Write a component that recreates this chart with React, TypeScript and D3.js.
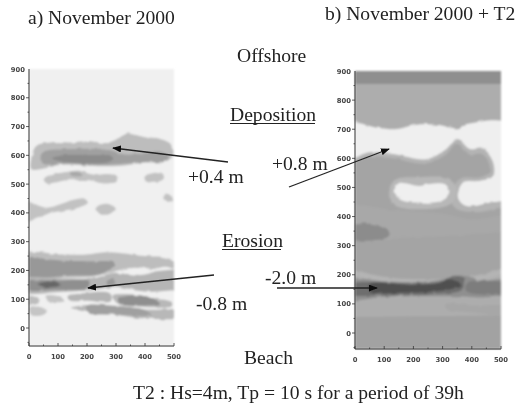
import React from "react";
import * as d3 from "d3";

type Pt = [number, number];
type Shape = { fill: string; pts: Pt[]; sharp?: boolean };

const yTicks = [900, 800, 700, 600, 500, 400, 300, 200, 100, 0];
const xTicks = [0, 100, 200, 300, 400, 500];

// Contour patches, in data units (x, y), panel a
const depOuter: Pt[] = [[8,590],[25,632],[70,645],[150,645],[200,650],[270,643],[295,652],[335,675],[400,663],[450,658],[490,638],[497,600],[470,578],[400,575],[330,565],[250,562],[120,567],[40,552],[8,552]];
const depMid: Pt[] = [[40,590],[50,612],[120,621],[200,623],[280,618],[330,603],[400,608],[450,613],[482,595],[470,580],[400,577],[330,572],[250,567],[120,572],[60,567]];
const depDark: Pt[] = [[80,590],[120,600],[200,601],[275,598],[290,587],[270,575],[200,572],[120,577]];
const bar1: Pt[] = [[50,520],[80,532],[130,542],[170,547],[220,533],[270,535],[307,527],[302,508],[250,503],[210,513],[130,513],[60,503]];
const bar1Dark: Pt[] = [[140,538],[170,541],[185,530],[150,528]];
const bar2: Pt[] = [[398,525],[430,539],[462,532],[464,515],[430,508],[403,513]];
const bar3: Pt[] = [[463,455],[485,465],[497,447],[475,438]];
const bar4: Pt[] = [[-30,445],[25,428],[60,418],[110,431],[150,445],[190,450],[203,435],[170,418],[120,408],[70,398],[30,383],[-30,362]];
const bar5: Pt[] = [[233,420],[270,432],[299,415],[285,398],[245,396]];
const ero1: Pt[] = [[-30,257],[120,255],[200,255],[260,263],[320,260],[400,250],[470,245],[495,232],[500,208],[470,213],[430,205],[390,210],[330,205],[270,190],[220,178],[120,175],[-30,175]];
const ero1Dark: Pt[] = [[-30,236],[120,234],[230,232],[285,230],[297,220],[280,205],[240,186],[150,182],[-30,182]];
const ero2: Pt[] = [[-30,168],[130,172],[220,172],[250,180],[290,192],[350,187],[395,185],[430,195],[530,195],[530,145],[430,126],[370,130],[300,143],[230,133],[120,126],[-30,126]];
const ero2Dark: Pt[] = [[-30,160],[100,165],[205,160],[205,140],[100,133],[-30,135]];
const ero2Core: Pt[] = [[30,152],[70,162],[110,150],[70,141]];
const ero2Patch: Pt[] = [[270,165],[290,170],[297,155],[270,150]];
const row3a: Pt[] = [[-30,110],[30,105],[37,90],[-30,86]];
const row3b: Pt[] = [[63,112],[110,107],[122,93],[80,90],[63,95]];
const row3c: Pt[] = [[133,110],[180,120],[280,120],[282,93],[200,95],[140,96]];
const row3d: Pt[] = [[288,112],[350,117],[440,102],[492,90],[492,76],[400,73],[308,83]];
const row3Dark: Pt[] = [[308,102],[370,114],[440,97],[452,85],[380,78],[320,83]];
const row4a: Pt[] = [[3,72],[40,72],[62,60],[50,46],[8,45]];
const row4b: Pt[] = [[148,70],[200,80],[300,77],[400,64],[530,57],[530,38],[400,33],[300,45],[200,55]];
const row4Dark: Pt[] = [[198,77],[280,77],[400,62],[422,45],[300,48],[203,53]];

// Contour patches, panel b
const bandUpper: Pt[] = [[-30,920],[530,920],[530,-90],[-30,-90]];
const bandTop: Pt[] = [[-30,920],[530,920],[530,855],[-30,855]];
const shoreBand: Pt[] = [[-30,55],[530,60],[530,-90],[-30,-90]];
const whiteZone: Pt[] = [[-30,718],[75,705],[143,700],[210,715],[280,715],[350,703],[385,718],[530,716],[530,400],[-30,400]];
const massOuter: Pt[] = [[-30,575],[28,615],[60,622],[130,615],[245,597],[313,632],[348,667],[393,632],[439,632],[473,586],[473,540],[439,523],[370,517],[353,465],[382,436],[530,448],[530,220],[-30,220]];
const massInner: Pt[] = [[-30,555],[30,600],[70,607],[130,600],[240,582],[310,612],[348,650],[390,615],[435,615],[460,580],[460,552],[430,535],[365,532],[335,500],[330,450],[350,425],[420,415],[530,425],[530,240],[-30,240]];
const holeRing: Pt[] = [[117,480],[135,525],[220,535],[320,530],[348,490],[330,445],[220,425],[135,440]];
const holeWhite: Pt[] = [[133,485],[150,514],[220,505],[255,512],[310,510],[323,480],[300,455],[220,448],[155,458]];
const rightWhite: Pt[] = [[395,510],[530,522],[530,465],[420,455],[395,480]];
const lowerBand: Pt[] = [[-30,430],[150,420],[300,410],[400,390],[530,400],[530,360],[400,340],[200,330],[-30,330]];
const sideBlob: Pt[] = [[-30,368],[60,374],[112,355],[117,335],[80,320],[-30,328]];
const troughHalo: Pt[] = [[-30,182],[100,178],[200,175],[300,184],[340,198],[390,194],[430,180],[530,182],[530,136],[430,122],[360,126],[250,126],[100,124],[-30,118]];
const troughMid: Pt[] = [[-30,165],[60,175],[200,170],[300,178],[330,193],[375,188],[365,148],[300,136],[100,130],[-30,135]];
const troughCore: Pt[] = [[50,168],[200,165],[280,170],[330,184],[365,162],[300,146],[150,138],[50,142]];
const troughRight: Pt[] = [[385,172],[440,178],[530,168],[530,143],[440,132],[385,143]];
const shorePatch: Pt[] = [[310,100],[400,95],[530,90],[530,65],[400,70],[310,85]];

const shapesA: Shape[] = [
  { fill: "#bdbdbd", pts: depOuter }, { fill: "#a0a0a0", pts: depMid }, { fill: "#8b8b8b", pts: depDark },
  { fill: "#c2c2c2", pts: bar1 }, { fill: "#a8a8a8", pts: bar1Dark }, { fill: "#c2c2c2", pts: bar2 },
  { fill: "#c2c2c2", pts: bar3 }, { fill: "#c2c2c2", pts: bar4 }, { fill: "#c2c2c2", pts: bar5 },
  { fill: "#bdbdbd", pts: ero1 }, { fill: "#989898", pts: ero1Dark }, { fill: "#b5b5b5", pts: ero2 },
  { fill: "#8f8f8f", pts: ero2Dark }, { fill: "#666666", pts: ero2Core }, { fill: "#9a9a9a", pts: ero2Patch },
  { fill: "#bdbdbd", pts: row3a }, { fill: "#c5c5c5", pts: row3b }, { fill: "#b5b5b5", pts: row3c },
  { fill: "#b8b8b8", pts: row3d }, { fill: "#8f8f8f", pts: row3Dark }, { fill: "#c5c5c5", pts: row4a },
  { fill: "#b8b8b8", pts: row4b }, { fill: "#a0a0a0", pts: row4Dark },
];
const shapesB: Shape[] = [
  { fill: "#adadad", pts: bandUpper, sharp: true }, { fill: "#8f8f8f", pts: bandTop, sharp: true }, { fill: "#a2a2a2", pts: shoreBand, sharp: true },
  { fill: "#efefef", pts: whiteZone }, { fill: "#b4b4b4", pts: massOuter }, { fill: "#a4a4a4", pts: massInner },
  { fill: "#b8b8b8", pts: holeRing }, { fill: "#efefef", pts: holeWhite }, { fill: "#efefef", pts: rightWhite },
  { fill: "#a8a8a8", pts: lowerBand }, { fill: "#8c8c8c", pts: sideBlob }, { fill: "#8f8f8f", pts: troughHalo },
  { fill: "#6e6e6e", pts: troughMid }, { fill: "#505050", pts: troughCore }, { fill: "#7d7d7d", pts: troughRight },
  { fill: "#a7a7a7", pts: shorePatch },
];

function Panel({ left, right, top, zero, bottom, bg, shapes, id }: { left: number; right: number; top: number; zero: number; bottom: number; bg: string; shapes: Shape[]; id: string }) {
  const x = d3.scaleLinear().domain([0, 500]).range([left, right]);
  const y = d3.scaleLinear().domain([0, 900]).range([zero, top]);
  const smooth = d3.line<Pt>().x((d) => x(d[0])).y((d) => y(d[1])).curve(d3.curveCatmullRomClosed.alpha(0.5));
  const sharp = d3.line<Pt>().x((d) => x(d[0])).y((d) => y(d[1])).curve(d3.curveLinearClosed);
  const minorY = d3.range(-50, 900, 50);
  const minorX = d3.range(0, 501, 50);
  return (
    <g>
      <clipPath id={id}><rect x={left} y={top} width={right - left} height={bottom - top} /></clipPath>
      <g filter="url(#soft)">
        <rect x={left} y={top} width={right - left} height={bottom - top} fill={bg} />
        <g clipPath={`url(#${id})`}>
          {shapes.filter((s) => s.sharp).map((s, i) => <path key={i} d={sharp(s.pts) ?? ""} fill={s.fill} />)}
          <g filter="url(#rough)">
            {shapes.filter((s) => !s.sharp).map((s, i) => <path key={i} d={smooth(s.pts) ?? ""} fill={s.fill} />)}
          </g>
        </g>
      </g>
      <g filter="url(#softer)" stroke="#333" fill="none">
        <line x1={left} x2={left} y1={top} y2={bottom} strokeWidth={1} />
        <line x1={left} x2={right} y1={bottom} y2={bottom} strokeWidth={1} />
        {minorY.map((v) => <line key={v} x1={left - (v % 100 === 0 ? 3 : 1.5)} x2={left} y1={y(v)} y2={y(v)} strokeWidth={0.8} />)}
        {minorX.map((v) => <line key={v} x1={x(v)} x2={x(v)} y1={bottom - (v % 100 === 0 ? 3 : 1.5)} y2={bottom} strokeWidth={0.8} />)}
      </g>
      <g filter="url(#softer)" fontFamily="DejaVu Sans" fontWeight="bold" fontSize={6.8} fill="#444">
        {yTicks.map((v) => <text key={v} x={left - 4} y={y(v) + 2.5} textAnchor="end">{v}</text>)}
        {xTicks.map((v) => <text key={v} x={x(v)} y={bottom + 13} textAnchor="middle">{v}</text>)}
      </g>
    </g>
  );
}

const labels: { t: string; x: number; y: number }[] = [
  { t: "a) November 2000", x: 28, y: 24 },
  { t: "b) November 2000 + T2", x: 325, y: 20 },
  { t: "Offshore", x: 237, y: 62 },
  { t: "Deposition", x: 230, y: 121 },
  { t: "+0.4 m", x: 188, y: 183 },
  { t: "+0.8 m", x: 272, y: 170 },
  { t: "Erosion", x: 222, y: 247 },
  { t: "-2.0 m", x: 265, y: 284 },
  { t: "-0.8 m", x: 196, y: 310 },
  { t: "Beach", x: 244, y: 364 },
  { t: "T2 : Hs=4m, Tp = 10 s for a period of 39h", x: 133, y: 399 },
];
const underlines = [[230, 315, 123.5], [222, 281, 249.5]];
const arrows = [
  { x1: 228, y1: 162, x2: 113, y2: 148 },
  { x1: 214, y1: 275, x2: 88, y2: 288 },
  { x1: 289, y1: 187, x2: 389, y2: 149 },
  { x1: 277, y1: 288, x2: 377, y2: 288 },
];

export default function App() {
  return (
    <svg width={517} height={406} style={{ position: "absolute", left: 0, top: 0, background: "#fff" }}>
      <defs>
        <filter id="soft" filterUnits="userSpaceOnUse" x={0} y={0} width={517} height={406}><feGaussianBlur stdDeviation={0.9} /></filter>
        <filter id="softer" filterUnits="userSpaceOnUse" x={0} y={0} width={517} height={406}><feGaussianBlur stdDeviation={0.35} /></filter>
        <filter id="rough" filterUnits="userSpaceOnUse" x={0} y={0} width={517} height={406}>
          <feTurbulence type="fractalNoise" baseFrequency={0.13} numOctaves={2} seed={4} result="n" />
          <feDisplacementMap in="SourceGraphic" in2="n" scale={3} xChannelSelector="R" yChannelSelector="G" />
        </filter>
        <marker id="head" viewBox="0 0 10 10" refX={9} refY={5} markerWidth={9} markerHeight={7} markerUnits="userSpaceOnUse" orient="auto" preserveAspectRatio="none">
          <path d="M0,0L10,5L0,10Z" fill="#111" />
        </marker>
      </defs>
      <Panel id="pa" left={29} right={174} top={69} zero={328} bottom={346} bg="#f0f0f0" shapes={shapesA} />
      <Panel id="pb" left={355} right={501} top={71} zero={333} bottom={349} bg="#efefef" shapes={shapesB} />
      <g filter="url(#softer)">
        {arrows.map((a, i) => <line key={i} x1={a.x1} y1={a.y1} x2={a.x2} y2={a.y2} stroke="#222" strokeWidth={1.3} markerEnd="url(#head)" />)}
        <g fontFamily="Liberation Serif" fontSize={19.6} fill="#222">
          {labels.map((l) => <text key={l.t} x={l.x} y={l.y}>{l.t}</text>)}
        </g>
        {underlines.map((u, i) => <line key={i} x1={u[0]} x2={u[1]} y1={u[2]} y2={u[2]} stroke="#222" strokeWidth={1} />)}
      </g>
    </svg>
  );
}
